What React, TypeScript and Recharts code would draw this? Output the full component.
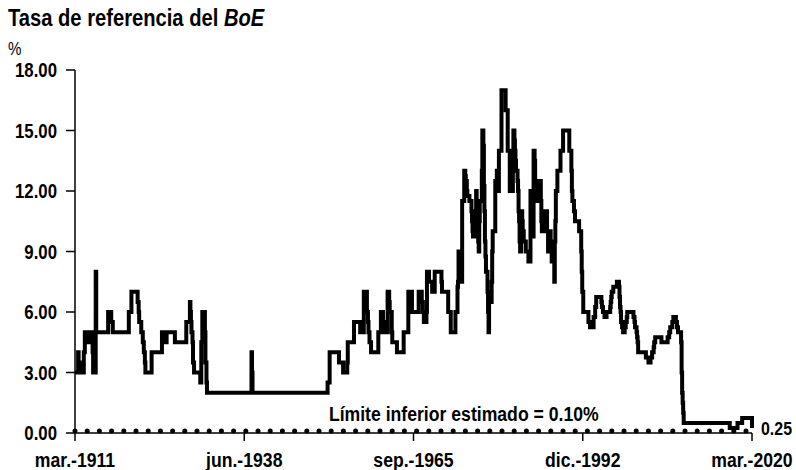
import React from "react";
import {
  LineChart,
  Line,
  XAxis,
  YAxis,
  ReferenceLine,
} from "recharts";

// Tasa oficial del BoE: fecha del cambio (AAAA-MM) y nivel vigente desde entonces
const fechas = [
  "1911-03", "1911-09", "1911-10", "1912-02", "1912-08", "1912-10", "1913-04", "1913-10",
  "1914-01", "1914-02", "1914-07", "1914-08", "1916-07", "1917-01", "1917-04", "1919-11",
  "1920-04", "1921-04", "1921-06", "1921-07", "1921-11", "1922-02", "1922-04", "1922-06",
  "1922-07", "1923-07", "1925-03", "1925-10", "1925-12", "1927-04", "1929-02", "1929-09",
  "1929-10", "1929-11", "1929-12", "1930-02", "1930-03", "1930-05", "1931-05", "1931-07",
  "1931-09", "1932-02", "1932-03", "1932-05", "1932-06", "1939-08", "1939-09", "1939-10",
  "1951-11", "1952-03", "1953-09", "1954-05", "1955-01", "1955-02", "1956-02", "1957-02",
  "1957-09", "1958-03", "1958-05", "1958-06", "1958-08", "1958-11", "1960-01", "1960-06",
  "1960-10", "1960-12", "1961-07", "1961-10", "1961-11", "1962-03", "1962-04", "1963-01",
  "1964-02", "1964-11", "1965-06", "1966-07", "1967-01", "1967-03", "1967-05", "1967-10",
  "1967-11", "1968-03", "1968-09", "1969-02", "1970-03", "1970-04", "1971-04", "1971-09",
  "1972-06", "1972-10", "1972-11", "1972-12", "1973-01", "1973-03", "1973-04", "1973-05",
  "1973-06", "1973-07", "1973-11", "1974-01", "1974-02", "1974-04", "1974-05", "1974-09",
  "1975-01", "1975-02", "1975-03", "1975-04", "1975-07", "1975-10", "1975-11", "1975-12",
  "1976-01", "1976-02", "1976-03", "1976-04", "1976-05", "1976-09", "1976-10", "1976-12",
  "1977-01", "1977-02", "1977-03", "1977-04", "1977-05", "1977-08", "1977-09", "1977-10",
  "1977-11", "1978-01", "1978-04", "1978-05", "1978-06", "1978-11", "1979-02", "1979-04",
  "1979-06", "1979-11", "1980-07", "1980-11", "1981-03", "1981-09", "1981-10", "1981-12",
  "1982-01", "1982-02", "1982-03", "1982-06", "1982-07", "1982-08", "1982-09", "1982-10",
  "1982-11", "1983-01", "1983-03", "1983-04", "1983-06", "1983-10", "1984-03", "1984-07",
  "1984-08", "1984-11", "1985-01", "1985-03", "1985-04", "1985-07", "1986-01", "1986-03",
  "1986-04", "1986-05", "1986-10", "1987-03", "1987-05", "1987-08", "1987-10", "1987-11",
  "1987-12", "1988-02", "1988-03", "1988-05", "1988-06", "1988-07", "1988-08", "1988-11",
  "1989-05", "1989-10", "1990-10", "1991-02", "1991-03", "1991-04", "1991-07", "1991-09",
  "1992-05", "1992-09", "1992-10", "1992-11", "1993-01", "1993-11", "1994-02", "1994-09",
  "1994-12", "1995-02", "1995-12", "1996-01", "1996-03", "1996-06", "1996-10", "1997-05",
  "1997-06", "1997-07", "1997-08", "1997-11", "1998-06", "1998-10", "1998-11", "1998-12",
  "1999-01", "1999-02", "1999-04", "1999-06", "1999-09", "1999-11", "2000-01", "2000-02",
  "2001-02", "2001-04", "2001-05", "2001-08", "2001-09", "2001-10", "2001-11", "2003-02",
  "2003-07", "2003-11", "2004-02", "2004-05", "2004-06", "2004-08", "2005-08", "2006-08",
  "2006-11", "2007-01", "2007-05", "2007-07", "2007-12", "2008-02", "2008-04", "2008-10",
  "2008-11", "2008-12", "2009-01", "2009-02", "2009-03", "2016-08", "2017-11", "2018-08",
  "2020-03",
];

const tasas = [
  3, 4, 3.5, 3, 4, 5, 4.5, 5,
  4, 3, 8, 5, 6, 5.5, 5, 6,
  7, 6.5, 6, 5.5, 5, 4.5, 4, 3.5,
  3, 4, 5, 4.5, 5, 4.5, 5.5, 6.5,
  6, 5.5, 5, 4.5, 3.5, 3, 2.5, 4.5,
  6, 5, 3.5, 2.5, 2, 4, 3, 2,
  2.5, 4, 3.5, 3, 3.5, 4.5, 5.5, 5,
  7, 6, 5.5, 5, 4.5, 4, 5, 6,
  5.5, 5, 7, 6.5, 6, 5, 4.5, 4,
  5, 7, 6, 7, 6.5, 6, 5.5, 6,
  8, 7.5, 7, 8, 7.5, 7, 6, 5,
  6, 7.25, 7.5, 9, 8.75, 8.5, 8, 7.75,
  7.5, 11.5, 13, 12.75, 12.5, 12, 11.75, 11.5,
  11, 10.5, 10, 9.75, 11, 12, 11.5, 11.25,
  10.5, 9.5, 9, 10.5, 11.5, 13, 15, 14.25,
  12.25, 11, 9.5, 8.75, 8, 7, 6, 5,
  7, 6.5, 7.5, 9, 10, 12.5, 13, 12,
  14, 17, 16, 14, 12, 14, 15, 14.5,
  14, 13.5, 13, 12.5, 12, 11, 10.5, 9.5,
  9, 11, 10.5, 10, 9.5, 9, 8.5, 12,
  10.5, 9.75, 14, 13.5, 12.5, 11.5, 12.5, 11.5,
  10.5, 10, 11, 10, 9, 10, 9.5, 9,
  8.5, 9, 8.5, 7.5, 9.5, 10.5, 12, 13,
  14, 15, 14, 13, 12, 11.5, 11, 10.5,
  10, 9, 8, 7, 6, 5.5, 5.25, 5.75,
  6.25, 6.75, 6.5, 6.25, 6, 5.75, 6, 6.25,
  6.5, 6.75, 7, 7.25, 7.5, 7.25, 6.75, 6.25,
  6, 5.5, 5.25, 5, 5.25, 5.5, 5.75, 6,
  5.75, 5.5, 5.25, 5, 4.75, 4.5, 4, 3.75,
  3.5, 3.75, 4, 4.25, 4.5, 4.75, 4.5, 4.75,
  5, 5.25, 5.5, 5.75, 5.5, 5.25, 5, 4.5,
  3, 2, 1.5, 1, 0.5, 0.25, 0.5, 0.75,
  0.25,
];

const fechasEje = ["1911-03", "1938-06", "1965-09", "1992-12", "2020-03"];
const ticksY = [0, 3, 6, 9, 12, 15, 18];
const limiteInferior = 0.1;
const meses = ["ene.", "feb.", "mar.", "abr.", "may.", "jun.", "jul.", "ago.", "sep.", "oct.", "nov.", "dic."];

const aTiempo = (f: string) => {
  const [a, m] = f.split("-").map(Number);
  return a + (m - 1) / 12;
};

const etiquetaFecha = (t: number) => {
  const idx = fechasEje.findIndex((f) => Math.abs(aTiempo(f) - t) < 0.01);
  if (idx < 0) return "";
  const [a, m] = fechasEje[idx].split("-").map(Number);
  return `${meses[m - 1]}-${a}`;
};

const data = fechas.map((f, i) => ({ t: aTiempo(f), tasa: tasas[i] }));

const FONT = "'Liberation Sans', Arial, sans-serif";
// el original usa una letra estrecha (tipo Arial Narrow)
const ESTRECHO = 0.84;

function TextoEstrecho({ x, y, anchor = "start", size = 20, bold = true, dy = "0", children }: any) {
  return (
    <g transform={`translate(${x},${y})`}>
      <text
        transform={`scale(${ESTRECHO},1)`}
        textAnchor={anchor}
        dy={dy}
        fontSize={size}
        fontWeight={bold ? "bold" : "normal"}
        fill="#000"
        style={{ fontFamily: FONT }}
      >
        {children}
      </text>
    </g>
  );
}

const TickX = (p: any) => (
  <TextoEstrecho x={p.x} y={p.y} anchor="middle" dy="0.71em" size={21}>
    {etiquetaFecha(p.payload.value)}
  </TextoEstrecho>
);

const TickY = (p: any) => (
  <TextoEstrecho x={p.x} y={p.y} anchor="end" dy="0.355em">
    {Number(p.payload.value).toFixed(2)}
  </TextoEstrecho>
);

export default function App() {
  const ultimo = data.length - 1;
  return (
    <div
      style={{
        position: "absolute",
        left: 0,
        top: 0,
        width: 796,
        height: 470,
        background: "#fff",
        fontFamily: FONT,
      }}
    >
      <div
        style={{
          position: "absolute",
          left: 8,
          top: 6,
          fontSize: 24,
          fontWeight: "bold",
          lineHeight: 1,
          color: "#000",
          whiteSpace: "nowrap",
          transform: `scaleX(${ESTRECHO})`,
          transformOrigin: "left top",
        }}
      >
        Tasa de referencia del <i>BoE</i>
      </div>
      <div
        style={{
          position: "absolute",
          left: 8,
          top: 40,
          fontSize: 18,
          lineHeight: 1,
          transform: `scaleX(${ESTRECHO})`,
          transformOrigin: "left top",
        }}
      >
        %
      </div>
      <LineChart
        width={796}
        height={470}
        data={data}
        margin={{ top: 70, right: 44, bottom: 7, left: 0 }}
        style={{ fontFamily: FONT }}
      >
        <XAxis
          type="number"
          dataKey="t"
          domain={[aTiempo(fechasEje[0]), aTiempo(fechasEje[fechasEje.length - 1])]}
          ticks={fechasEje.map(aTiempo)}
          height={30}
          stroke="#000"
          strokeWidth={1.5}
          tickSize={8}
          tickMargin={11}
          tick={TickX}
          interval={0}
        />
        <YAxis
          type="number"
          domain={[0, 18]}
          ticks={ticksY}
          width={75}
          stroke="#000"
          strokeWidth={1.5}
          tickSize={9}
          tickMargin={9}
          tick={TickY}
          interval={0}
        />
        <ReferenceLine
          y={limiteInferior}
          stroke="#000"
          strokeWidth={5}
          strokeDasharray="0 12.2"
          strokeLinecap="round"
          label={(p: any) => {
            const vb = p.viewBox;
            return (
              <TextoEstrecho x={vb.x + vb.width * 0.375} y={vb.y - 10} size={21}>
                {`Límite inferior estimado = ${limiteInferior.toFixed(2)}%`}
              </TextoEstrecho>
            );
          }}
        />
        <Line
          type="stepAfter"
          dataKey="tasa"
          stroke="#000"
          strokeWidth={4}
          dot={false}
          isAnimationActive={false}
          label={(p: any) =>
            p.index === ultimo ? (
              <TextoEstrecho key="ult" x={p.x + 9} y={p.y + 7} size={19}>
                {Number(p.value).toFixed(2)}
              </TextoEstrecho>
            ) : (
              <g key={`l${p.index}`} />
            )
          }
        />
      </LineChart>
    </div>
  );
}
